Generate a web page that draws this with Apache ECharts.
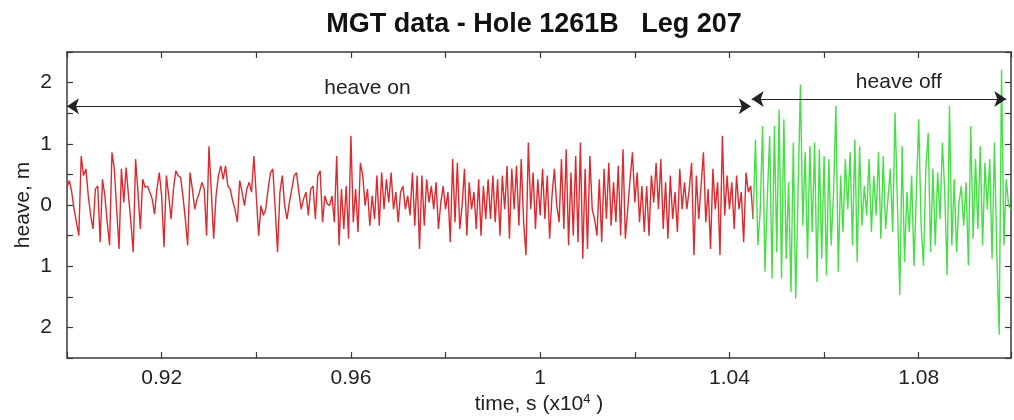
<!DOCTYPE html>
<html>
<head>
<meta charset="utf-8">
<title>MGT data - Hole 1261B Leg 207</title>
<script src="https://cdn.jsdelivr.net/npm/echarts@6/dist/echarts.min.js"></script>
<style>
html, body { margin: 0; padding: 0; background: #fff; }
#chart { width: 1014px; height: 420px; }
</style>
</head>
<body>
<div id="chart"></div>
<script>
// heave record in metres, one sample every 5 s (time axis is in units of 10^4 s)
var sampleStep = 0.0005;
var heaveOnStart = 0.9;
var heaveOffStart = 1.045;

// heave compensator on (red)
var heaveOn = [
  0.29, 0.40, 0.21, -0.07, -0.28, -0.50, 0.80, 0.48, 0.59, 0.15,
  -0.17, -0.39, 0.26, 0.31, -0.61, 0.42, 0.15, -0.28, -0.66, 0.86,
  0.59, -0.07, -0.72, 0.59, 0.04, 0.61, 0.15, -0.28, -0.77, 0.75,
  0.21, -0.39, 0.42, 0.29, 0.31, 0.21, 0.10, -0.15, 0.26, 0.53,
  0.15, -0.69, 0.48, 0.15, -0.23, 0.26, 0.56, 0.48, 0.45, 0.15,
  -0.23, -0.66, 0.53, 0.26, -0.07, 0.10, 0.21, 0.37, 0.26, -0.50,
  0.96, 0.21, -0.55, 0.15, 0.48, 0.64, 0.42, 0.64, 0.31, 0.26,
  0.07, -0.07, -0.28, 0.40, 0.21, -0.01, 0.26, 0.37, 0.21, 0.80,
  0.15, -0.50, -0.01, -0.17, -0.07, 0.26, 0.53, 0.59, -0.07, -0.77,
  0.21, 0.48, -0.01, -0.23, 0.04, 0.26, 0.48, 0.53, 0.21, -0.07,
  0.10,
  0.21, -0.17, 0.26, 0.31, -0.23, 0.48, 0.56, -0.28, 0.15, 0.02,
  -0.01, 0.15, -0.28, 0.80, -0.66, 0.26, -0.39, 0.31, -0.55, 1.13,
  -0.28, 0.26, -0.44, 0.69, 0.48, -0.01, 0.26, -0.34, 0.15, -0.23,
  0.48, -0.34, 0.53, -0.07, 0.42, 0.04, 0.53, -0.07, 0.21, -0.28,
  0.21, 0.31, -0.07, 0.15, -0.17, 0.53, -0.34, 0.48, -0.72, 0.48,
  -0.34, 0.42, 0.04, 0.31, -0.07, 0.37, -0.39, 0.04, 0.31, -0.07,
  0.21, -0.61, 0.75, -0.28, 0.69, -0.39, -0.01, 0.59, -0.50, 0.37,
  -0.07, 0.21, -0.39, 0.42, -0.50, 0.31, -0.23, 0.42, -0.23, 0.48,
  -0.28, 0.42, -0.50, 0.48, -0.07, 0.64, -0.55, 0.59, -0.07, 0.64,
  -0.34, 0.75, -0.28, -0.82, 1.02, -0.07, 0.53, -0.39, 0.42, -0.17,
  0.59, -0.23,
  0.48, -0.55, 0.15, 0.59, -0.01, -0.28, 0.75, -0.39, 0.91, -0.66,
  0.53, -0.50, 0.80, -0.61, 1.02, -0.88, 0.59, -0.72, 0.80, -0.07,
  -0.23, -0.50, 0.42, -0.61, 0.59, -0.23, 0.69, -0.34, 0.37, -0.28,
  0.64, -0.50, 0.91, -0.55, -0.07, 0.42, 0.86, 0.04, 0.53, -0.28,
  0.31, -0.44, 0.31, -0.50, 0.48, 0.04, 0.69, -0.07, 0.75, -0.39,
  0.37, -0.55, 0.48, -0.23, 0.21, -0.44, 0.59, -0.07, 0.37, -0.07,
  0.26, 0.69, -0.82, 0.48, -0.23, 0.31, 0.86, -0.28, 0.26, -0.72,
  0.59, -0.07, 0.37, -0.82, 1.13, -0.17, 0.48, -0.07, 0.37, -0.39,
  0.48, -0.07, 0.21, -0.61, 0.53, 0.21, 0.31, -0.23
];

// heave compensator off (green)
var heaveOff = [
  -0.23, 1.07, -0.66, -0.10, 1.29, -1.09, 0.10, 1.13, -1.20, 1.29,
  -0.77, 1.56, -1.20, 1.40, -0.88, 0.37, -1.42, 1.02, -1.53, 0.21,
  1.97, -0.34, 0.86, -0.88, 0.96, -0.44, 1.02, -1.26, 0.91, -0.88,
  0.80, -1.15, 0.75, -0.66, 0.21, 1.62, -1.09, 0.48, -0.44, 0.75,
  -0.07, 0.86, -0.66, 1.07, -0.93, 0.96, -0.34, 0.31, -0.17, 0.75,
  -0.44, 0.48, -0.17, 0.86, -0.55, 0.80, -0.39, 0.10, 0.59, -0.44,
  1.51, 0.00, -1.47, 0.96, -0.93, 0.21, -0.44, 0.48, -1.00, 0.21,
  1.40, -0.34, -0.99, 0.59, 1.18, -0.77, 0.59, -0.66, 0.53, -0.23,
  1.02, 0.20, -1.15, 1.62, -0.66, 0.42, -0.77, 0.04, 0.31, -0.34,
  0.37, -0.99, 1.29, -0.55, 0.75, -0.39, 0.96, -0.66, 0.69, -0.07,
  0.75, -0.88, 1.02, -0.77, -2.12, 2.21, -0.66, 0.42, -0.01, -0.07
];

var xTicks = [0.92, 0.96, 1, 1.04, 1.08];
var yTicks = [-2, -1, 0, 1, 2];

function toPoints(start, values) {
  var pts = [];
  for (var i = 0; i < values.length; i++) {
    pts.push([+(start + i * sampleStep).toFixed(4), values[i]]);
  }
  return pts;
}

var fontFam = '"Liberation Sans", Arial, Helvetica, sans-serif';
var axisCol = '#3a3a3a';

function xLabel(v) {
  var r = +v.toFixed(2);
  return xTicks.indexOf(r) >= 0 ? String(r) : '';
}
function yLabel(v) {
  var r = +v.toFixed(1);
  return yTicks.indexOf(r) >= 0 ? String(Math.abs(r)) : '';
}

var baseX = {
  type: 'value', min: 0.9, max: 1.0995, interval: 0.02,
  splitLine: { show: false },
  axisLine: { show: true, onZero: false, lineStyle: { color: axisCol, width: 1.5 } },
  axisTick: { show: true, inside: true, length: 6, lineStyle: { color: axisCol, width: 1.2 } }
};
var baseY = {
  type: 'value', min: -2.5, max: 2.5, interval: 0.5,
  splitLine: { show: false },
  axisLine: { show: true, onZero: false, lineStyle: { color: axisCol, width: 1.5 } },
  axisTick: { show: true, inside: true, length: 6, lineStyle: { color: axisCol, width: 1.2 } }
};

var option = {
  animation: false,
  backgroundColor: '#ffffff',
  title: {
    text: 'MGT data - Hole 1261B   Leg 207',
    left: 529, top: 6, textAlign: 'center',
    textStyle: { fontFamily: fontFam, fontSize: 27, fontWeight: 'bold', color: '#111' }
  },
  grid: { left: 67, right: 2, top: 52, bottom: 62, containLabel: false },
  xAxis: [
    Object.assign({}, baseX, {
      position: 'bottom',
      name: 'time, s (x10{sup|4} )',
      nameLocation: 'middle', nameGap: 35, nameMoveOverlap: false,
      nameTextStyle: {
        fontFamily: fontFam, fontSize: 21, color: '#222',
        rich: { sup: { fontFamily: fontFam, fontSize: 13, color: '#222', verticalAlign: 'top', padding: [0, 0, 10, 0] } }
      },
      axisLabel: { show: true, margin: 10, fontFamily: fontFam, fontSize: 21, color: '#222', formatter: xLabel }
    }),
    Object.assign({}, baseX, { position: 'top', axisLabel: { show: false } })
  ],
  yAxis: [
    Object.assign({}, baseY, {
      position: 'left',
      name: 'heave, m', nameLocation: 'middle', nameGap: 33, nameMoveOverlap: false,
      nameTextStyle: { fontFamily: fontFam, fontSize: 21, color: '#222' },
      axisLabel: { show: true, margin: 15, fontFamily: fontFam, fontSize: 21, color: '#222', formatter: yLabel }
    }),
    Object.assign({}, baseY, { position: 'right', axisLabel: { show: false } })
  ],
  series: [
    {
      name: 'heave on', type: 'line', xAxisIndex: 0, yAxisIndex: 0,
      data: toPoints(heaveOnStart, heaveOn),
      showSymbol: false, symbol: 'none',
      lineStyle: { color: '#dd2a2e', width: 1.4 },
      itemStyle: { color: '#dd2a2e' },
      markLine: {
        silent: true, symbol: ['arrow', 'arrow'], symbolSize: 12,
        lineStyle: { color: '#222', width: 1.2, type: 'solid' },
        label: { show: false },
        data: [[{ coord: [0.9, 1.615] }, { coord: [1.0445, 1.615] }]]
      },
      markPoint: {
        silent: true, symbol: 'circle', symbolSize: 0,
        label: { show: true, position: 'inside', formatter: '{b}', fontFamily: fontFam, fontSize: 21, color: '#222' },
        data: [{ name: 'heave on', coord: [0.9635, 1.91] }]
      }
    },
    {
      name: 'heave off', type: 'line', xAxisIndex: 0, yAxisIndex: 0,
      data: toPoints(heaveOffStart, heaveOff),
      showSymbol: false, symbol: 'none',
      lineStyle: { color: '#44e044', width: 1.4 },
      itemStyle: { color: '#44e044' },
      markLine: {
        silent: true, symbol: ['arrow', 'arrow'], symbolSize: 12,
        lineStyle: { color: '#222', width: 1.2, type: 'solid' },
        label: { show: false },
        data: [[{ coord: [1.0447, 1.73] }, { coord: [1.0985, 1.73] }]]
      },
      markPoint: {
        silent: true, symbol: 'circle', symbolSize: 0,
        label: { show: true, position: 'inside', formatter: '{b}', fontFamily: fontFam, fontSize: 21, color: '#222' },
        data: [{ name: 'heave off', coord: [1.0758, 2.0] }]
      }
    }
  ]
};

var myChart = echarts.init(document.getElementById('chart'), null, { renderer: 'canvas' });
myChart.setOption(option);
</script>
</body>
</html>
